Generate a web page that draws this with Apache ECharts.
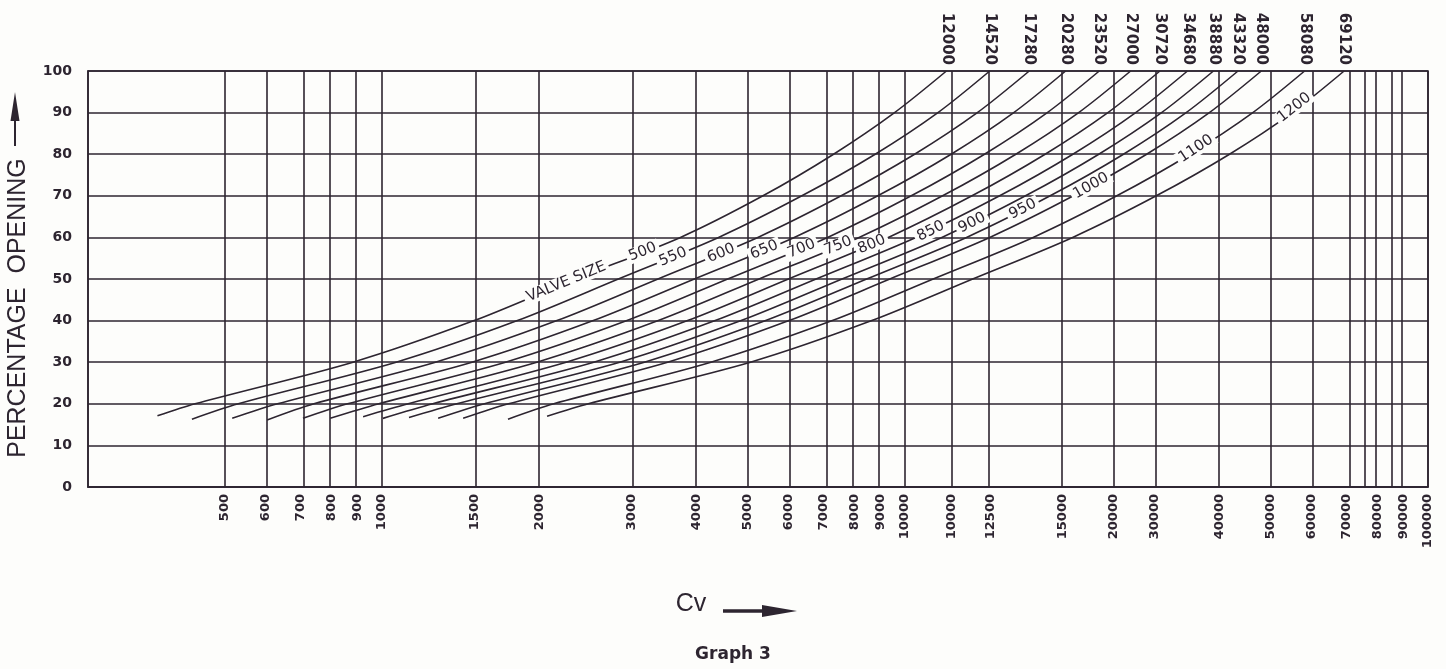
<!DOCTYPE html>
<html>
<head>
<meta charset="utf-8">
<script src="https://cdn.jsdelivr.net/npm/echarts@6/dist/echarts.min.js"></script>
<style>
html,body{margin:0;padding:0;background:#fdfdfb;}
#chart{width:1446px;height:669px;}
</style>
</head>
<body>
<div id="chart"></div>
<script>
// ---------------- data ----------------
const valveSizes = [500, 550, 600, 650, 700, 750, 800, 850, 900, 950, 1000, 1100, 1200];
// Cv at 100 % opening (labels printed above the chart)
const maxCv = [12000, 14520, 17280, 20280, 23520, 27000, 30720, 34680, 38880, 43320, 48000, 58080, 69120];
// where each curve begins (lower-left end)
const startCv  = [372, 433, 517, 603, 706, 796, 920, 1004, 1126, 1280, 1429, 1741, 2068];
const startPct = [17.1, 16.3, 16.5, 16.1, 16.5, 16.5, 16.9, 16.5, 16.7, 16.5, 16.5, 16.3, 17.0];
// percentage openings at which the curves were read
const openingLevels = [20, 30, 40, 50, 60, 70, 80, 90, 100];
// Cv read for each curve at the opening levels above
const cv500  = [439, 880, 1500, 2340, 3720, 5350, 7300, 9550, 12000];
const cv550  = [531, 1064, 1815, 2830, 4400, 6350, 8770, 11560, 14520];
const cv600  = [631, 1265, 2160, 3370, 5230, 7550, 10430, 13750, 17280];
const cv650  = [741, 1486, 2535, 3955, 6140, 8870, 12250, 16140, 20280];
const cv700  = [859, 1722, 2940, 4580, 7110, 10280, 14190, 18710, 23520];
const cv750  = [986, 1977, 3375, 5260, 8170, 11800, 16290, 21480, 27000];
const cv800  = [1122, 2249, 3840, 5985, 9290, 13430, 18530, 24430, 30720];
const cv850  = [1250, 2540, 4335, 6760, 10490, 15170, 20940, 27610, 34680];
const cv900  = [1390, 2848, 4860, 7578, 11760, 17000, 23470, 30940, 38880];
const cv950  = [1570, 3174, 5415, 8445, 13110, 18950, 26160, 34480, 43320];
const cv1000 = [1745, 3516, 6000, 9354, 14520, 20990, 28970, 38190, 48000];
const cv1100 = [2130, 4254, 7261, 11320, 17580, 25410, 35080, 46240, 58080];
const cv1200 = [2480, 5063, 8640, 13470, 20920, 30230, 41730, 55020, 69120];
// labels written on the curves
const curveLabelText  = ['VALVE SIZE', '500', '550', '600', '650', '700', '750', '800', '850', '900', '950', '1000', '1100', '1200'];
const curveLabelOn    = [0, 0, 1, 2, 3, 4, 5, 6, 7, 8, 9, 10, 11, 12];
const curveLabelCv    = [2250, 3150, 3600, 4450, 5380, 6340, 7450, 8640, 11200, 13430, 16800, 22680, 36000, 55500];
const curveLabelPct   = [49.3, 56.5, 55.3, 56.2, 57.0, 57.3, 58.0, 58.3, 61.5, 63.5, 66.8, 72.4, 81.3, 91.2];
// x axis: Cv values of the vertical grid lines and the text printed under them
const xGridCv = [500, 600, 700, 800, 900, 1000, 1500, 2000, 3000, 4000, 5000, 6000, 7000, 8000, 9000, 10000,
                 12300, 14600, 20000, 25000, 30000, 40000, 50000, 60000, 70000, 75000, 80000, 85000, 90000, 100000];
const xTickLabels = ['500', '600', '700', '800', '900', '1000', '1500', '2000', '3000', '4000', '5000', '6000', '7000', '8000', '9000', '10000',
                 '10000', '12500', '15000', '20000', '30000', '40000', '50000', '60000', '70000', '', '80000', '', '90000', '100000'];
const xMinCv = 274, xMaxCv = 100000;
const yTicks = [0, 10, 20, 30, 40, 50, 60, 70, 80, 90, 100];

// ---------------- chart ----------------
const INK = '#2d2530';
const BG = '#fdfdfb';
const lg = Math.log10;
const curveCv = [cv500, cv550, cv600, cv650, cv700, cv750, cv800, cv850, cv900, cv950, cv1000, cv1100, cv1200];
const curvePoints = valveSizes.map((s, i) =>
  [[lg(startCv[i]), startPct[i]]].concat(curveCv[i].map((cv, j) => [lg(cv), openingLevels[j]])));

function lookup(values, labels) {
  return function (v) {
    for (let i = 0; i < values.length; i++) if (Math.abs(lg(values[i]) - v) < 1e-7) return labels[i];
    return '';
  };
}

const chart = echarts.init(document.getElementById('chart'), null, {renderer: 'canvas'});

const curveSeries = valveSizes.map((s, i) => ({
  type: 'line', name: String(s), xAxisIndex: 0, yAxisIndex: 0,
  data: curvePoints[i], smooth: 0.3,
  symbol: 'none', silent: true, z: 3,
  lineStyle: {color: INK, width: 1.6},
  emphasis: {disabled: true}
}));
// vertical grid lines of the reference's (uneven) Cv grid
curveSeries[0].markLine = {
  silent: true, symbol: ['none', 'none'], animation: false,
  label: {show: false},
  lineStyle: {color: INK, width: 1.6, type: 'solid'},
  emphasis: {disabled: true},
  data: xGridCv.map(v => ({xAxis: lg(v)}))
};

function labelData(angles) {
  return curveLabelText.map((t, k) => ({
    name: t,
    value: [lg(curveLabelCv[k]), curveLabelPct[k]],
    label: {rotate: angles ? angles[k] : 0}
  }));
}

const option = {
  animation: false,
  backgroundColor: BG,
  grid: {left: 88, right: 18, top: 71, bottom: 182, show: true, borderColor: INK, borderWidth: 1.6, backgroundColor: 'transparent'},
  xAxis: [{
    type: 'value', position: 'bottom', min: lg(xMinCv), max: lg(xMaxCv),
    axisLine: {show: true, lineStyle: {color: INK, width: 1.6}},
    axisTick: {show: false}, splitLine: {show: false},
    axisLabel: {
      customValues: xGridCv.map(lg), formatter: lookup(xGridCv, xTickLabels),
      rotate: 90, margin: 7, color: INK, fontFamily: 'DejaVu Sans', fontWeight: 'bold', fontSize: 13
    }
  }, {
    type: 'value', position: 'top', min: lg(xMinCv), max: lg(xMaxCv),
    axisLine: {show: false}, axisTick: {show: false}, splitLine: {show: false},
    axisLabel: {
      customValues: maxCv.map(lg), formatter: lookup(maxCv, maxCv.map(String)),
      rotate: 90, margin: 6, color: INK, fontFamily: 'DejaVu Sans', fontWeight: 'bold', fontSize: 15
    }
  }],
  yAxis: {
    type: 'value', min: yTicks[0], max: yTicks[yTicks.length - 1], interval: 10,
    axisLine: {show: true, lineStyle: {color: INK, width: 1.6}},
    axisTick: {show: false},
    splitLine: {show: true, lineStyle: {color: INK, width: 1.6}},
    axisLabel: {margin: 16, color: INK, fontFamily: 'DejaVu Sans', fontWeight: 'bold', fontSize: 14}
  },
  series: curveSeries.concat([{
    type: 'scatter', name: 'curveLabels', xAxisIndex: 0, yAxisIndex: 0, z: 10, silent: true,
    symbol: 'circle', symbolSize: 1, itemStyle: {color: BG, opacity: 1},
    emphasis: {disabled: true},
    label: {show: true, position: 'inside', formatter: p => p.name, color: INK, opacity: 1,
            fontFamily: 'DejaVu Sans', fontSize: 15, backgroundColor: BG, padding: [0, 3]},
    data: labelData(null)
  }]),
  graphic: [
    {type: 'text', x: 18, y: 308, rotation: Math.PI / 2,
     style: {text: 'PERCENTAGE  OPENING', font: '25px "Liberation Sans"', fill: INK, align: 'center', verticalAlign: 'middle'}},
    {type: 'line', shape: {x1: 15, y1: 146, x2: 15, y2: 112}, style: {stroke: INK, lineWidth: 2}},
    {type: 'polygon', shape: {points: [[10.5, 121], [19.5, 121], [15, 92]]}, style: {fill: INK}},
    {type: 'text', x: 691, y: 604, style: {text: 'Cv', font: '25px "Liberation Sans"', fill: INK, align: 'center', verticalAlign: 'middle'}},
    {type: 'line', shape: {x1: 723, y1: 611, x2: 770, y2: 611}, style: {stroke: INK, lineWidth: 3.5}},
    {type: 'polygon', shape: {points: [[762, 605], [797, 611], [762, 617]]}, style: {fill: INK}},
    {type: 'text', x: 733, y: 655, style: {text: 'Graph 3', font: 'bold 17px "DejaVu Sans"', fill: INK, align: 'center', verticalAlign: 'middle'}}
  ]
};
chart.setOption(option);

// rotate each curve label along its curve, using the chart's own coordinate conversion
function angleOn(ci, cv) {
  const pts = curvePoints[ci], lx = lg(cv);
  let j = 0;
  while (j < pts.length - 2 && pts[j + 1][0] < lx) j++;
  const a = chart.convertToPixel({gridIndex: 0}, pts[j]);
  const b = chart.convertToPixel({gridIndex: 0}, pts[j + 1]);
  return Math.atan2(a[1] - b[1], b[0] - a[0]) * 180 / Math.PI;
}
const angles = curveLabelText.map((t, k) => angleOn(curveLabelOn[k], curveLabelCv[k]));
chart.setOption({series: [{name: 'curveLabels', data: labelData(angles)}]});
</script>
</body>
</html>
